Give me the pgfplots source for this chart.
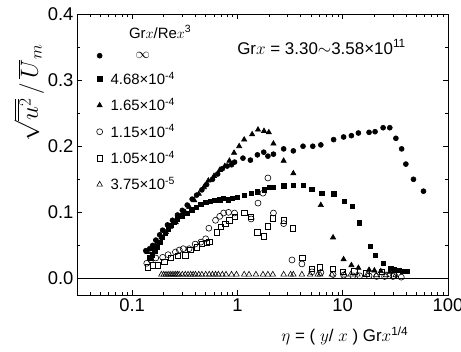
\documentclass[border=0pt]{standalone}
\usepackage{pgfplots}
\pgfplotsset{compat=1.18}
\usepackage{calc}
\usepackage{fontspec}
\setmainfont{Liberation Sans}

\begin{document}
\begin{tikzpicture}
\begin{axis}[
 name=ax,
 xmode=log,
 width=371bp, height=281bp, scale only axis,
 xmin=0.03, xmax=100,
 ymin=-0.025, ymax=0.4,
 xtick={0.1,1,10,100}, xticklabels={0.1,1,10,100},
 minor xtick={0.03,0.04,0.05,0.06,0.07,0.08,0.09,0.2,0.3,0.4,0.5,0.6,0.7,0.8,0.9,2,3,4,5,6,7,8,9,20,30,40,50,60,70,80,90},
 ytick={0,0.1,0.2,0.3,0.4},
 minor ytick={0.05,0.15,0.25,0.35},
 y tick label style={/pgf/number format/fixed,/pgf/number format/fixed zerofill,/pgf/number format/precision=1},
 /pgf/number format/assume math mode=true,
 tick align=inside,
 major tick length=5bp, minor tick length=3bp,
 tick label style={font=\fontsize{18.5}{20}\selectfont},
 axis line style={line width=0.8pt},
 every tick/.style={black, line width=0.6pt},
 xlabel={\fontsize{17}{20}\selectfont $\eta$ = ( $y$/ $x$ ) Gr$x$\textsuperscript{1/4}},
 xlabel style={at={(axis description cs:0.722,-0.1)}, anchor=north},
 clip=false,
 legend cell align=left,
 legend style={draw=none, fill=none, at={(axis description cs:0.0525,0.873)}, anchor=north west,
   font=\fontsize{15}{17}\selectfont, row sep=8.5bp, column sep=6bp, inner sep=0pt},
 every axis plot/.append style={black, line width=0.6pt},
]
\addplot[only marks, mark=*, mark size=2.5pt] coordinates {
(0.135,0.042) (0.147,0.045) (0.157,0.050) (0.168,0.058) (0.183,0.066) (0.195,0.073)
(0.217,0.081) (0.242,0.088) (0.27,0.096) (0.30,0.103) (0.334,0.111) (0.372,0.120)
(0.41,0.126) (0.46,0.134) (0.51,0.142) (0.58,0.150) (0.65,0.158) (0.72,0.166)
(0.80,0.170) (0.88,0.172) (0.94,0.176) (1.13,0.182) (1.33,0.179) (1.55,0.187)
(1.78,0.191) (1.95,0.185) (2.2,0.188) (2.75,0.196) (3.4,0.193) (4.2,0.200)
(5.2,0.200) (6.2,0.202) (8.2,0.210) (10.2,0.214) (12.1,0.216) (14.1,0.220)
(17.8,0.221) (20.3,0.222) (24.2,0.228) (28,0.228) (32,0.212) (36.3,0.196)
(39.8,0.173) (47,0.150) (58.5,0.132)
};
\addlegendentry{\makebox[\widthof{4.68×10\textsuperscript{-4}}][c]{$\infty$}}

\addplot[only marks, mark=square*, mark size=2.2pt] coordinates {
(0.147,0.031) (0.155,0.036) (0.164,0.042) (0.173,0.048) (0.183,0.055) (0.195,0.062)
(0.208,0.068) (0.22,0.074) (0.235,0.080) (0.25,0.085) (0.27,0.090) (0.30,0.095)
(0.33,0.099) (0.37,0.104) (0.41,0.108) (0.45,0.112) (0.50,0.115) (0.55,0.117)
(0.60,0.118) (0.68,0.119) (0.74,0.121) (0.82,0.119) (0.90,0.121) (1.0,0.123)
(1.16,0.126) (1.35,0.129) (1.55,0.131) (1.8,0.134) (2.0,0.138) (2.2,0.138)
(2.75,0.140) (3.4,0.141) (4.2,0.141) (5.1,0.135) (6.35,0.129) (8.2,0.128)
(10.4,0.117) (12.4,0.109) (14.4,0.084) (18.3,0.049) (20.4,0.035) (24.2,0.023)
(28.6,0.015) (31,0.013) (34,0.012) (37,0.011) (41,0.011)
};
\addlegendentry{4.68×10\textsuperscript{-4}}

\addplot[only marks, mark=triangle*, mark size=3pt] coordinates {
(0.14,0.040) (0.15,0.044) (0.16,0.048) (0.175,0.055) (0.19,0.062) (0.21,0.070)
(0.23,0.078) (0.26,0.085) (0.29,0.093) (0.32,0.100) (0.35,0.108) (0.39,0.118)
(0.43,0.128) (0.48,0.138) (0.53,0.148) (0.60,0.155) (0.68,0.164) (0.76,0.170)
(0.84,0.178) (0.93,0.190) (1.04,0.200) (1.16,0.210) (1.38,0.218) (1.57,0.225)
(1.79,0.223) (1.99,0.221) (2.2,0.204) (2.75,0.178) (3.4,0.159) (6.2,0.111)
(8.1,0.062) (10.2,0.029) (12.1,0.020) (14.1,0.016) (17.8,0.013) (20,0.012)
(23,0.011) (28,0.010)
};
\addlegendentry{1.65×10\textsuperscript{-4}}

\addplot[only marks, mark=o, mark size=3pt] coordinates {
(0.138,0.023) (0.151,0.028) (0.168,0.031) (0.195,0.032) (0.22,0.036) (0.258,0.040)
(0.281,0.043) (0.306,0.045) (0.348,0.045) (0.397,0.052) (0.45,0.055) (0.50,0.060)
(0.536,0.076) (0.62,0.088) (0.68,0.094) (0.74,0.099) (0.824,0.100) (0.94,0.099)
(1.35,0.090) (1.57,0.114) (1.75,0.129) (1.95,0.152) (2.2,0.099) (2.75,0.083)
(3.3,0.028) (4.1,0.022) (5.1,0.010) (6.2,0.009) (8.1,0.006) (10.2,0.005)
(12.5,0.004) (14.5,0.004) (17.8,0.004) (21,0.003) (25,0.003) (30,0.003) (36,0.002)
};
\addlegendentry{1.15×10\textsuperscript{-4}}

\addplot[only marks, mark=square, mark size=2.7pt] coordinates {
(0.141,0.017) (0.157,0.020) (0.175,0.020) (0.203,0.025) (0.232,0.031) (0.27,0.034)
(0.32,0.035) (0.356,0.043) (0.41,0.047) (0.46,0.052) (0.51,0.054) (0.54,0.055)
(0.64,0.070) (0.70,0.078) (0.77,0.083) (0.84,0.088) (0.94,0.093) (1.16,0.099)
(1.35,0.093) (1.54,0.070) (1.79,0.064) (1.95,0.079) (2.17,0.091) (2.75,0.088)
(3.34,0.076) (4.14,0.031) (5.1,0.015) (6.1,0.017) (8.06,0.015) (10,0.010)
(12.9,0.011) (16.7,0.008) (23.6,0.010) (30.5,0.005)
};
\addlegendentry{1.05×10\textsuperscript{-4}}

\addplot[only marks, mark=triangle, mark size=3.2pt] coordinates {
(0.19,0.006) (0.20,0.006) (0.21,0.006) (0.22,0.006) (0.23,0.006) (0.24,0.006)
(0.25,0.006) (0.26,0.006) (0.27,0.006) (0.28,0.006) (0.30,0.006) (0.32,0.006)
(0.34,0.006) (0.36,0.006) (0.38,0.006) (0.40,0.006) (0.43,0.006) (0.46,0.006)
(0.50,0.006) (0.54,0.006) (0.58,0.006) (0.62,0.006) (0.66,0.006) (0.72,0.006)
(0.78,0.006) (0.88,0.006) (0.98,0.006) (1.16,0.006) (1.29,0.006) (1.5,0.006)
(1.75,0.006) (1.95,0.006) (2.17,0.006) (2.75,0.006) (3.2,0.006) (3.4,0.006)
(4.1,0.006) (4.9,0.006) (5.8,0.006) (6.1,0.006) (7.9,0.006) (10.4,0.006)
(11.9,0.006) (13.8,0.006) (17.1,0.006) (20.8,0.005) (25.8,0.005) (31.9,0.005)
};
\addlegendentry{3.75×10\textsuperscript{-5}}

\addplot[forget plot, black, line width=0.6pt, mark=none] coordinates {(0.03,0) (100,0)};

\node[anchor=center, font=\fontsize{15}{17}\selectfont] at (axis description cs:0.224,0.936)
  {Gr$x$/Re$x$\textsuperscript{3}};
\node[anchor=center, font=\fontsize{17}{20}\selectfont] at (axis cs:6.3,0.35)
  {Gr$x$ = 3.30$\sim$3.58×10\textsuperscript{11}};
\node[rotate=90, anchor=center, inner sep=0pt, font=\fontsize{24}{28}\selectfont]
  at (axis description cs:-0.13,0.719) {$\sqrt{\overline{u^{2}}}\,/\,\overline{U}_{m}$};
\end{axis}
\pgfresetboundingbox
\path[use as bounding box] ([shift={(-77bp,-57bp)}]ax.south west) rectangle ([shift={(13bp,14bp)}]ax.north east);
\end{tikzpicture}
\end{document}
